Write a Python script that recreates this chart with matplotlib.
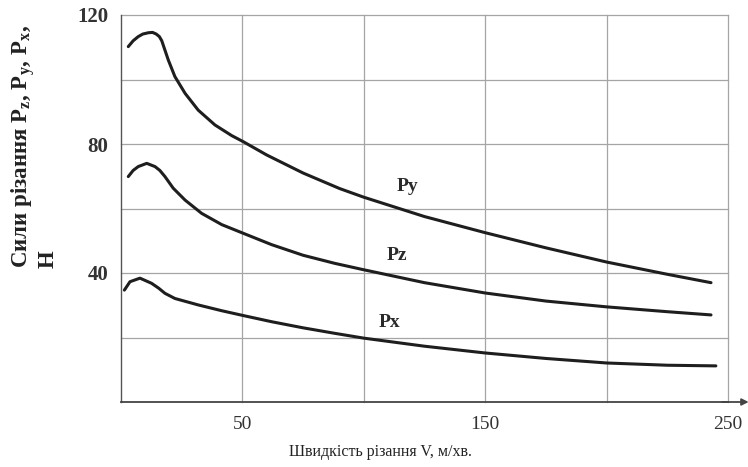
import matplotlib
matplotlib.use("Agg")
import matplotlib.pyplot as plt

# Data
py_v = [3.0, 5, 7.1, 9, 11.3, 13, 14.5, 15.8, 16.8, 18.1, 19.5, 22.2, 26.4, 31.8, 38.7, 45.6, 50.4, 60, 75, 90, 100, 125, 150, 175, 200, 225, 243]
py_f = [110.2, 112, 113.3, 114.1, 114.5, 114.6, 114.1, 113.3, 112.0, 109.1, 106, 100.9, 95.7, 90.5, 85.9, 82.6, 80.7, 76.6, 71.0, 66.2, 63.5, 57.5, 52.5, 47.8, 43.4, 39.6, 37]

pz_v = [3.0, 5, 7.1, 10.6, 14, 16, 18.1, 21.5, 26.4, 33.2, 41.5, 50.4, 62, 75, 88, 100, 125, 150, 175, 200, 225, 243]
pz_f = [69.9, 71.8, 73, 74, 73, 71.8, 69.9, 66.3, 62.6, 58.5, 55.0, 52.3, 48.8, 45.5, 43, 41, 37, 33.8, 31.3, 29.5, 28, 27]

px_v = [1.4, 3.7, 7.8, 12.6, 15.5, 18.1, 22.2, 31.8, 41.5, 50.4, 62, 75, 88, 100, 125, 150, 175, 200, 225, 245]
px_f = [34.7, 37.3, 38.4, 36.8, 35.3, 33.7, 32.1, 30.1, 28.3, 26.8, 24.9, 23, 21.3, 19.8, 17.3, 15.2, 13.5, 12.1, 11.4, 11.2]

curve_labels = ["Py", "Pz", "Px"]
label_pos = [(118, 66.7), (113.6, 45.3), (110.7, 24.5)]

x_ticks = [50, 150, 250]
y_ticks = [40, 80, 120]
x_grid = [50, 100, 150, 200, 250]
y_grid = [20, 40, 60, 80, 100, 120]

serif = ["Liberation Serif", "DejaVu Serif"]

fig = plt.figure(figsize=(7.48, 4.67), dpi=100)
ax = fig.add_axes([121/748, 1-402/467, (728-121)/748, (402-15)/467])
ax.set_xlim(0, 250)
ax.set_ylim(0, 120)

grid_col = "#a5a5a5"
for g in x_grid:
    ax.axvline(g, color=grid_col, lw=0.9, zorder=1, clip_on=False)
for g in y_grid:
    ax.axhline(g, color=grid_col, lw=0.9, zorder=1, clip_on=False)

line_col = "#1e1e1e"
for v, f in [(py_v, py_f), (pz_v, pz_f), (px_v, px_f)]:
    ax.plot(v, f, color=line_col, lw=2.2, solid_capstyle="round",
            solid_joinstyle="round", zorder=3)

for lab, (lx, ly) in zip(curve_labels, label_pos):
    ax.text(lx, ly, lab, family=serif, fontsize=14, fontweight="bold",
            color="#2a2a2a", ha="center", va="center")

for s in ["top", "right"]:
    ax.spines[s].set_visible(False)
ax.spines["left"].set_color("#555555")
ax.spines["bottom"].set_color("#444444")
ax.spines["left"].set_linewidth(1.0)
ax.spines["bottom"].set_linewidth(1.3)

ax.annotate("", xy=(1.034, 0), xytext=(0.99, 0), xycoords="axes fraction",
            arrowprops=dict(arrowstyle="-|>", color="#444444", lw=1.3,
                            mutation_scale=10, shrinkA=0, shrinkB=0),
            annotation_clip=False)

ax.set_xticks(x_ticks)
ax.set_yticks(y_ticks)
ax.tick_params(axis="y", length=0, pad=9)
ax.tick_params(axis="x", length=0, pad=10)
for t in ax.get_xticklabels():
    t.set_fontfamily(serif)
    t.set_fontsize(14)
    t.set_color("#333333")
for t in ax.get_yticklabels():
    t.set_fontfamily(serif)
    t.set_fontsize(15)
    t.set_fontweight("bold")
    t.set_color("#333333")

fig.text(380/748, 1-452/467, "Швидкість різання V, м/хв.", family=serif,
         fontsize=11.5, color="#222222", ha="center", va="center")

fig.text(34/748, 1-268/467,
         "Сили різання P$_\\mathregular{z}$, P$_\\mathregular{y}$, P$_\\mathregular{x}$,\nН",
         family=serif, fontsize=16.5, fontweight="bold", color="#222222",
         rotation=90, ha="center", va="bottom", multialignment="left",
         linespacing=1.0)

fig.savefig("out.png", dpi=100)
